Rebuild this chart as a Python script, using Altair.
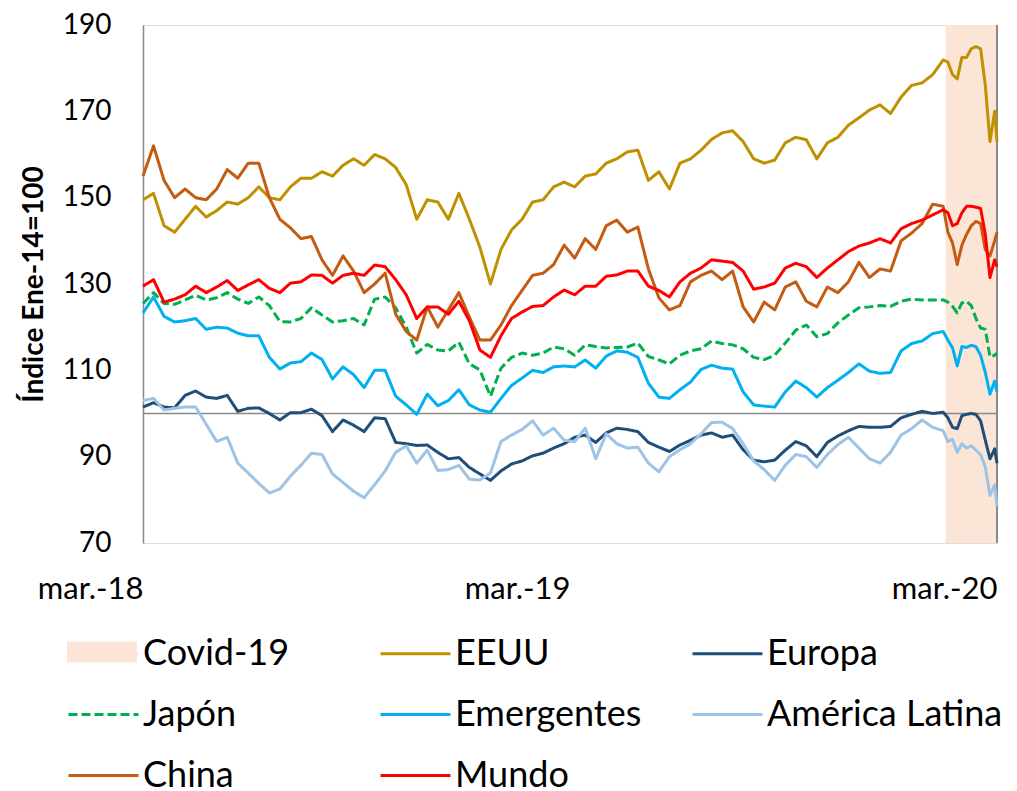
import altair as alt
import pandas as pd

# ---------------- data ----------------
series_names = ["EEUU", "Europa", "Japón", "Emergentes", "América Latina", "China", "Mundo"]
covid_name = "Covid-19"
covid_color = "#FBE5D6"
legend_names = [covid_name] + series_names
legend_colors = [covid_color, "#BF9000", "#1F4E79", "#00B050", "#00B0F0", "#9DC3E6", "#C55A11", "#FF0000"]
legend_dashes = [[1, 0], [1, 0], [1, 0], [9, 4], [1, 0], [1, 0], [1, 0], [1, 0]]

start_date = "2018-03-27"
mid_date = "2019-03-27"
end_date = "2020-03-26"
covid_start = "2020-02-11"
# observation dates: days after start_date
day_offsets = list(range(0, 685, 9)) + list(range(688, 729, 4)) + [730]

eeuu = [149.5, 151, 143.5, 142, 145, 148, 145.5, 147, 149, 148.5,
        150, 152.5, 150, 149.5, 152.5, 154.5, 154.5, 156, 155, 157.5,
        159, 157.5, 160, 159, 157, 153, 145, 149.5, 149, 145,
        151, 145, 138.5, 130, 138, 142.5, 145, 149, 149.5, 152.5,
        153.6, 152.5, 155, 155.5, 158, 159, 160.6, 161, 154, 156,
        152, 158, 159, 161, 163.5, 165, 165.5, 163, 159, 158,
        158.7, 162.7, 164, 163.4, 159, 162.7, 164, 166.8, 168.5, 170.3,
        171.5, 169.5, 173.3, 176, 176.6, 178.5, 181.9,
        181.4, 178.5, 177.5, 182.5, 182.5, 184.5, 185, 184.5, 176, 163, 170, 163]

europa = [101.5, 102.5, 101.5, 101.3, 104.2, 105.2, 103.8, 103.5, 104.2, 100.5,
          101.2, 101.3, 100, 98.5, 100.2, 100.2, 101, 99.5, 95.8, 98.5,
          97.3, 95.8, 99, 98.8, 93.3, 93, 92.6, 92.7, 91, 89.5,
          89.8, 87.5, 86, 84.5, 86.7, 88.3, 89, 90.2, 90.8, 92,
          93, 94.5, 95, 93.3, 95.5, 96.6, 96.3, 95.8, 93.3, 92.2,
          91.2, 92.7, 93.8, 95, 95.5, 94.5, 95, 91.6, 89.2, 88.8,
          89.2, 91.5, 93.5, 92.5, 90, 93.3, 94.8, 96, 97, 96.8,
          96.8, 97, 99, 99.8, 100.5, 100, 100.3,
          99, 96.8, 96.5, 99.5, 99.8, 100, 99.8, 98.3, 93.8, 89.5, 91.8, 88.5]

japon = [125.5, 128, 125.5, 125.3, 126.3, 127.4, 126.3, 126.8, 128, 126.5,
         125.5, 127, 125, 121.3, 121.2, 122, 124.5, 122.8, 121.2, 121.5,
         122, 120.5, 126.5, 127, 124.5, 120, 114, 116, 114.7, 114.5,
         116.5, 111.5, 110.1, 104, 110.5, 113, 114, 113.5, 114, 115.4,
         115, 113.5, 115.9, 115.5, 115.2, 115.3, 115.4, 116.3, 113.2, 112.4,
         111.5, 113.5, 114.5, 115, 116.8, 116.2, 115.9, 115, 113, 112.5,
         113.5, 116.3, 119.3, 120.5, 117.8, 118.5, 121, 122.8, 124.5, 124.7,
         125, 124.8, 126, 126.5, 126.3, 126.3, 126.3,
         125.8, 124.8, 123.3, 125.6, 126, 125, 122, 119.8, 119.5, 113.1, 113.5, 114]

emergentes = [123.3, 127, 122.5, 121.2, 121.5, 122, 119.5, 120, 119.8, 118.6,
              118, 118, 113, 110.3, 111.7, 112, 114, 112.5, 108, 110.8,
              109, 106, 110, 110, 104, 102, 99.8, 104.5, 101.8, 103,
              105.5, 102, 100.8, 100.3, 103.5, 106.5, 108.2, 110, 109.5, 110.8,
              111, 110.8, 112.4, 110.5, 113.3, 114.5, 114.2, 113, 107, 103.8,
              103.5, 105.5, 107.3, 110.2, 111.2, 110.5, 110.3, 105, 102, 101.7,
              101.5, 105, 107.5, 106, 103.8, 106, 107.7, 109.5, 111.5, 109.8,
              109.3, 109.5, 114.5, 116.2, 116.8, 118.5, 119,
              117, 115.2, 111, 115.5, 115.3, 115.8, 115.5, 113.5, 109.5, 104.5, 107.5, 105]

america_latina = [103, 103.5, 100.8, 101.2, 101.5, 101.5, 97.5, 93.5, 94.5, 88.5,
                  86.2, 83.8, 81.6, 82.5, 85.5, 88, 90.8, 90.5, 86, 84,
                  82, 80.5, 83.5, 86.7, 91, 92.5, 88.5, 91.5, 86.8, 87,
                  88, 84.8, 84.6, 86.2, 93.5, 95, 96.3, 98.3, 95, 96.6,
                  93.8, 93.5, 96.6, 89.5, 95.3, 93, 92, 92.2, 88.5, 86.5,
                  90, 91.6, 93, 95.3, 97.9, 98, 96.5, 93, 89, 87,
                  84.5, 88, 90.5, 90, 87.5, 90.5, 92.8, 94.5, 92, 89.5,
                  88.5, 91, 95, 96.5, 98.5, 96.8, 96,
                  93.5, 94, 91, 93, 92, 92.5, 91.5, 90.5, 87.6, 81, 83.5, 78.5]

china = [155, 162, 154, 150, 152, 150, 149.5, 152, 156.5, 154.5,
         158, 158, 150, 145, 143, 140.5, 141, 135.6, 132, 136.5,
         133, 128, 130, 132.5, 123, 119, 117, 124.7, 120, 124,
         128, 122.3, 117, 117, 120.5, 125, 128.5, 132, 132.5, 134.5,
         139, 136, 140.5, 138, 143.5, 144.8, 142, 143.2, 133.5, 126.8,
         124, 125, 130.5, 132, 133, 131, 133, 124.7, 121.2, 125.8,
         124, 129.3, 130.5, 126, 124.7, 129.3, 128, 130.5, 135, 131.5,
         133.5, 133, 140, 141.8, 144, 148.5, 148,
         142, 139.5, 134.5, 139, 141.5, 143.5, 144.5, 144, 138, 136.5, 140, 142]

mundo = [129.5, 131, 125.8, 126.5, 127.5, 129.5, 128, 129.3, 130.8, 128.5,
         129.8, 131, 129, 128, 130.2, 130.5, 132.1, 132, 130.2, 132,
         132.5, 132, 134.4, 134, 131, 127.5, 122, 124.7, 124.7, 123,
         126, 121.5, 114.7, 113, 118, 122, 123.5, 124.8, 125, 127,
         128.6, 127.5, 129.5, 129.5, 131.8, 132.1, 133, 133, 129.5, 128.5,
         127, 130.5, 132.5, 133.7, 135.6, 135.3, 135, 133, 128.8, 129.3,
         130.2, 133.7, 134.8, 134, 131.5, 133.7, 135.6, 137.5, 138.8, 139.5,
         140.5, 139.5, 142.8, 144, 144.8, 146, 147.2,
         146.5, 143.5, 144, 146.5, 148, 148, 147.8, 147.5, 141.5, 131.5, 135.6, 134]

y_ticks = [70, 90, 110, 130, 150, 170, 190]
baseline_level = 100

# ---------------- tables ----------------
dates = [pd.Timestamp(start_date) + pd.Timedelta(days=d) for d in day_offsets]
series_values = [eeuu, europa, japon, emergentes, america_latina, china, mundo]
rows = []
for name, vals in zip(series_names, series_values):
    for order, (d, v) in enumerate(zip(dates, vals)):
        rows.append({"fecha": d, "serie": name, "valor": v, "orden": order})
lines_df = pd.DataFrame(rows)

covid_df = pd.DataFrame({"inicio": [pd.Timestamp(covid_start)], "fin": [pd.Timestamp(end_date)],
                         "evento": [covid_name]})
base_df = pd.DataFrame({"inicio": [pd.Timestamp(start_date)], "fin": [pd.Timestamp(end_date)],
                        "nivel": [baseline_level]})
right_df = pd.DataFrame({"fecha": [pd.Timestamp(end_date)], "lo": [min(y_ticks)], "hi": [max(y_ticks)]})


def dt(s):
    t = pd.Timestamp(s)
    return alt.DateTime(year=t.year, month=t.month, date=t.day)


x_scale = alt.Scale(domain=[dt(start_date), dt(end_date)], nice=False)
y_scale = alt.Scale(domain=[min(y_ticks), max(y_ticks)], nice=False, zero=False)

FONT = "Lato"
GRAY = "#898989"

x_axis = alt.Axis(values=[dt(start_date), dt(mid_date), dt(end_date)],
                  labelExpr="'mar.-' + timeFormat(datum.value, '%y')",
                  labelAlign="right", labelFontSize=31, labelFont=FONT, labelColor="#000000",
                  labelPadding=31, ticks=False, domain=False, grid=False, title=None,
                  labelOverlap=False, labelFlush=False)
y_axis = alt.Axis(values=y_ticks, labelFontSize=28, labelFont=FONT, labelColor="#000000",
                  labelPadding=32, ticks=False, grid=False, domain=True, domainColor=GRAY,
                  domainWidth=1.5, title="Índice Ene-14=100", titleFont=FONT, titleFontSize=28,
                  titleFontWeight="bold", titleColor="#000000", titlePadding=14)

LEG_X = -76
LEG_Y = 592
LEG_FONT = 36

# legend for the shaded Covid-19 period (symbol only; its label comes from the series legend)
covid_legend = alt.Legend(
    title=None, orient="none", legendX=LEG_X, legendY=LEG_Y, padding=0,
    symbolType="M-1,-0.29H1V0.29H-1Z", symbolSize=4900, symbolStrokeWidth=0,
    labelExpr="''", labelFontSize=LEG_FONT, labelFont=FONT,
)

covid = alt.Chart(covid_df).mark_rect().encode(
    x=alt.X("inicio:T", scale=x_scale, axis=x_axis),
    x2="fin:T",
    y=alt.Y(datum=max(y_ticks), type="quantitative", scale=y_scale, axis=y_axis),
    y2=alt.Y2(datum=min(y_ticks)),
    fill=alt.Fill("evento:N", scale=alt.Scale(domain=[covid_name], range=[covid_color]),
                  legend=covid_legend),
)

base_rule = alt.Chart(base_df).mark_rule(color=GRAY, strokeWidth=1.5).encode(
    x="inicio:T", x2="fin:T", y="nivel:Q")

right_rule = alt.Chart(right_df).mark_rule(color=GRAY, strokeWidth=2).encode(
    x="fecha:T", y="lo:Q", y2="hi:Q")


def series_legend():
    return alt.Legend(
        title=None, orient="none", legendX=LEG_X, legendY=LEG_Y, padding=0, columns=3,
        direction="horizontal", symbolType="stroke", symbolSize=4900, symbolStrokeWidth=3,
        labelFont=FONT, labelFontSize=LEG_FONT, labelColor="#000000", labelOffset=3,
        rowPadding=6, columnPadding=-28, gridAlign="all", labelLimit=400,
    )


lines = alt.Chart(lines_df).mark_line(strokeWidth=3, strokeJoin="round").encode(
    x="fecha:T",
    y="valor:Q",
    color=alt.Color("serie:N", scale=alt.Scale(domain=legend_names, range=legend_colors),
                    legend=series_legend()),
    strokeDash=alt.StrokeDash("serie:N", scale=alt.Scale(domain=legend_names, range=legend_dashes),
                              legend=series_legend()),
    order="orden:Q",
)

chart = alt.layer(covid, base_rule, right_rule, lines).properties(
    width=854, height=518,
    autosize=alt.AutoSizeParams(type="none"),
    padding={"left": 135, "top": 17, "right": 12, "bottom": 256},
).configure_view(stroke=None).configure(background="white")

chart.save("out.html", embed_options={"renderer": "svg", "actions": False})
